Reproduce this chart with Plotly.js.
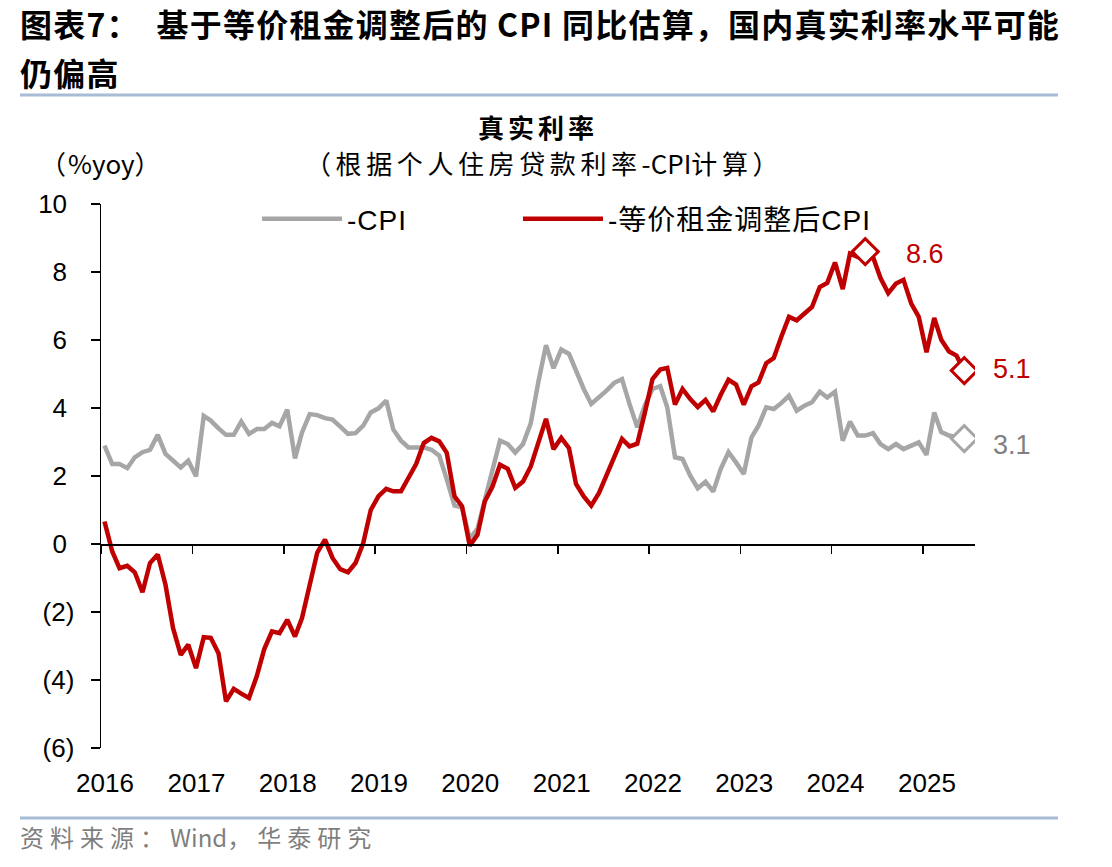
<!DOCTYPE html>
<html>
<head>
<meta charset="utf-8">
<script src="https://cdn.plot.ly/plotly-3.0.1.min.js"></script>
<style>
  html, body { margin: 0; padding: 0; background: #ffffff; }
  #chart { width: 1112px; height: 867px; }
</style>
</head>
<body>
<div id="chart"></div>
<script>
// Real interest rate: personal housing loan rate minus CPI (% yoy), monthly Jan 2016 – Jun 2025
const startYear = 2016;

// Loan rate minus headline CPI
const negCpi = [
  2.89, 2.35, 2.35, 2.23, 2.55, 2.70, 2.77, 3.21, 2.65, 2.45, 2.25, 2.45,
  1.99, 3.77, 3.63, 3.40, 3.21, 3.21, 3.60, 3.24, 3.38, 3.38, 3.56, 3.46,
  3.95, 2.52, 3.28, 3.82, 3.79, 3.70, 3.66, 3.45, 3.24, 3.26, 3.48, 3.87,
  3.99, 4.22, 3.37, 3.04, 2.84, 2.84, 2.84, 2.77, 2.60, 1.90, 1.13, 1.08,
  0.15, 0.45, 1.30, 2.10, 3.04, 2.94, 2.69, 2.94, 3.55, 4.75, 5.85, 5.17,
  5.72, 5.59, 5.10, 4.56, 4.12, 4.31, 4.51, 4.74, 4.85, 4.12, 3.43, 4.07,
  4.56, 4.64, 4.02, 2.55, 2.50, 2.01, 1.64, 1.83, 1.54, 2.21, 2.70, 2.40,
  2.06, 3.14, 3.48, 4.02, 3.97, 4.15, 4.36, 3.92, 4.07, 4.17, 4.48, 4.31,
  4.48, 3.04, 3.60, 3.19, 3.19, 3.26, 2.94, 2.79, 2.94, 2.79, 2.89, 2.99,
  2.62, 3.87, 3.29, 3.19, 3.14, 3.10
];

// Loan rate minus CPI adjusted with owner-equivalent rent
const negAdjCpi = [
  0.66, -0.22, -0.71, -0.64, -0.83, -1.42, -0.56, -0.31, -1.20, -2.47, -3.26, -2.96,
  -3.65, -2.74, -2.76, -3.21, -4.63, -4.26, -4.40, -4.53, -3.89, -3.09, -2.57, -2.62,
  -2.23, -2.72, -2.18, -1.25, -0.25, 0.13, -0.41, -0.74, -0.83, -0.56, 0.03, 1.00,
  1.41, 1.62, 1.55, 1.55, 1.94, 2.36, 2.97, 3.12, 3.02, 2.68, 1.40, 1.11,
  -0.05, 0.27, 1.25, 1.69, 2.33, 2.21, 1.65, 1.84, 2.28, 3.02, 3.68, 2.79,
  3.12, 2.82, 1.77, 1.40, 1.13, 1.50, 2.04, 2.53, 3.09, 2.87, 2.95, 3.85,
  4.85, 5.13, 5.18, 4.10, 4.56, 4.26, 4.03, 4.24, 3.90, 4.39, 4.83, 4.69,
  4.10, 4.64, 4.75, 5.32, 5.47, 6.11, 6.68, 6.58, 6.79, 6.97, 7.56, 7.68,
  8.28, 7.50, 8.54, 8.44, 8.60, 8.44, 7.82, 7.38, 7.66, 7.77, 7.07, 6.68,
  5.64, 6.65, 6.01, 5.66, 5.54, 5.10
];

const yearLabels = ['2016','2017','2018','2019','2020','2021','2022','2023','2024','2025'];
const yTickVals = [-6, -4, -2, 0, 2, 4, 6, 8, 10];
// accounting-style labels: positives padded so digits line up with the bracketed negatives
const yTickText = ['(6)', '(4)', '(2)', '0\u00a0', '2\u00a0', '4\u00a0', '6\u00a0', '8\u00a0', '10\u00a0'];

const seriesNames = ['-CPI', '-等价租金调整后CPI'];

// Month stamps (mid-month) for each observation
const months = negCpi.map((_, i) => {
  const y = startYear + Math.floor(i / 12);
  const m = (i % 12) + 1;
  return y + '-' + String(m).padStart(2, '0') + '-15';
});
const yearDates = yearLabels.map(y => y + '-01-01');

const RED = '#c00000';
const GREY = '#a6a6a6';
const LATIN = 'Liberation Sans, Arial, sans-serif';
const CJK = 'Noto Sans CJK SC, sans-serif';

const last = negCpi.length - 1;
let peak = 0;
negAdjCpi.forEach((v, i) => { if (v > negAdjCpi[peak]) peak = i; });

// page geometry helpers (pixel -> paper fraction)
const W = 1112, H = 867;
const M = { l: 101, r: 137, t: 204, b: 119 };
const pw = W - M.l - M.r, ph = H - M.t - M.b;
const px = x => (x - M.l) / pw;
const py = y => (H - M.b - y) / ph;
const spaced = (s, ls) => '<span style="letter-spacing:' + ls + 'px">' + s + '</span>';

const traces = [
  {
    type: 'scatter', mode: 'lines', name: spaced(seriesNames[0], 1), legend: 'legend',
    x: months, y: negCpi,
    line: { color: GREY, width: 4.5 },
    hoverinfo: 'skip'
  },
  {
    type: 'scatter', mode: 'lines', name: spaced(seriesNames[1], 1), legend: 'legend2',
    x: months, y: negAdjCpi,
    line: { color: RED, width: 4.5 },
    hoverinfo: 'skip'
  },
  {
    type: 'scatter', mode: 'markers', showlegend: false,
    x: [months[last]], y: [negCpi[last]],
    marker: { symbol: 'diamond', size: 20, color: '#ffffff', line: { color: GREY, width: 3 } },
    hoverinfo: 'skip'
  },
  {
    type: 'scatter', mode: 'markers', showlegend: false,
    x: [months[peak], months[last]], y: [negAdjCpi[peak], negAdjCpi[last]],
    marker: { symbol: 'diamond', size: 20, color: '#ffffff', line: { color: RED, width: 3 } },
    hoverinfo: 'skip'
  },
  // carrier for the zero-crossing category axis
  { type: 'scatter', x: [], y: [], xaxis: 'x2', showlegend: false, hoverinfo: 'skip' }
];

const annotations = [
  { text: '<b>' + spaced('图表7：  基于等价租金调整后的 CPI 同比估算，国内真实利率水平可能', 1.2) + '</b>',
    xref: 'paper', yref: 'paper', x: px(18), y: py(23), xanchor: 'left', yanchor: 'middle',
    showarrow: false, font: { family: CJK, size: 32, color: '#000000' } },
  { text: '<b>' + spaced('仍偏高', 1.2) + '</b>',
    xref: 'paper', yref: 'paper', x: px(18), y: py(72), xanchor: 'left', yanchor: 'middle',
    showarrow: false, font: { family: CJK, size: 32, color: '#000000' } },
  { text: '<b>' + spaced('真实利率', 4) + '</b>',
    xref: 'paper', yref: 'paper', x: px(538), y: py(127), xanchor: 'center', yanchor: 'middle',
    showarrow: false, font: { family: CJK, size: 26, color: '#000000' } },
  { text: spaced('（', 2) + '%yoy' + spaced('）', 2),
    xref: 'paper', yref: 'paper', x: px(38), y: py(162), xanchor: 'left', yanchor: 'middle',
    showarrow: false, font: { family: CJK, size: 26, color: '#000000' } },
  { text: spaced('（根据个人住房贷款利率', 4.6) + '-CPI' + spaced('计算）', 4.6),
    xref: 'paper', yref: 'paper', x: px(544), y: py(162), xanchor: 'center', yanchor: 'middle',
    showarrow: false, font: { family: CJK, size: 26, color: '#000000' } },
  { text: spaced('资料来源：', 6) + 'Wind' + spaced('，华泰研究', 6),
    xref: 'paper', yref: 'paper', x: px(18), y: py(836), xanchor: 'left', yanchor: 'middle',
    showarrow: false, font: { family: CJK, size: 24, color: '#7f7f7f' } },
  // value call-outs
  { text: negAdjCpi[peak].toFixed(1), x: months[peak], y: negAdjCpi[peak],
    xref: 'x', yref: 'y', xanchor: 'left', yanchor: 'middle', xshift: 39, yshift: -2,
    showarrow: false, font: { family: LATIN, size: 27, color: RED } },
  { text: negAdjCpi[last].toFixed(1), x: months[last], y: negAdjCpi[last],
    xref: 'x', yref: 'y', xanchor: 'left', yanchor: 'middle', xshift: 27, yshift: 2,
    showarrow: false, font: { family: LATIN, size: 27, color: RED } },
  { text: negCpi[last].toFixed(1), x: months[last], y: negCpi[last],
    xref: 'x', yref: 'y', xanchor: 'left', yanchor: 'middle', xshift: 27, yshift: -6,
    showarrow: false, font: { family: LATIN, size: 27, color: '#808080' } }
];

const rule = { type: 'line', xref: 'paper', yref: 'paper', line: { color: '#a8bcd6', width: 3 } };
const shapes = [
  Object.assign({}, rule, { x0: px(20), x1: px(1058), y0: py(95), y1: py(95) }),
  Object.assign({}, rule, { x0: px(20), x1: px(1058), y0: py(818), y1: py(818) })
];

const xRange = ['2016-01-01', '2025-07-28'];

const legendBase = {
  orientation: 'h', xanchor: 'left', yanchor: 'middle', y: py(219),
  font: { family: LATIN + ', ' + CJK, size: 28, color: '#000000' },
  itemwidth: 80, bgcolor: 'rgba(0,0,0,0)'
};

const layout = {
  width: W, height: H,
  margin: M,
  paper_bgcolor: '#ffffff', plot_bgcolor: '#ffffff',
  showlegend: true,
  legend: Object.assign({}, legendBase, { x: px(257) }),
  legend2: Object.assign({}, legendBase, { x: px(518) }),
  xaxis: {
    type: 'date', range: xRange,
    tickvals: yearDates, ticktext: yearLabels,
    ticks: 'outside', ticklen: 12, tickcolor: 'rgba(0,0,0,0)',
    ticklabelshift: 4,
    showline: false, showgrid: false, zeroline: false,
    tickfont: { family: LATIN, size: 26, color: '#000000' }
  },
  xaxis2: {
    type: 'date', range: xRange, overlaying: 'x', anchor: 'free', position: 6 / 16,
    tickvals: yearDates, showticklabels: false,
    ticks: 'outside', ticklen: 8, tickwidth: 1.5, tickcolor: '#000000',
    showline: true, linecolor: '#000000', linewidth: 1.5,
    showgrid: false, zeroline: false
  },
  yaxis: {
    range: [-6, 10], tickvals: yTickVals, ticktext: yTickText,
    ticks: 'outside', ticklen: 9, tickwidth: 1.5, tickcolor: '#000000',
    ticklabelstandoff: 11,
    showline: true, linecolor: '#000000', linewidth: 1.5,
    showgrid: false, zeroline: false,
    tickfont: { family: LATIN, size: 26, color: '#000000' }
  },
  annotations: annotations,
  shapes: shapes
};

Plotly.newPlot('chart', traces, layout, { staticPlot: true, displayModeBar: false });
</script>
</body>
</html>
